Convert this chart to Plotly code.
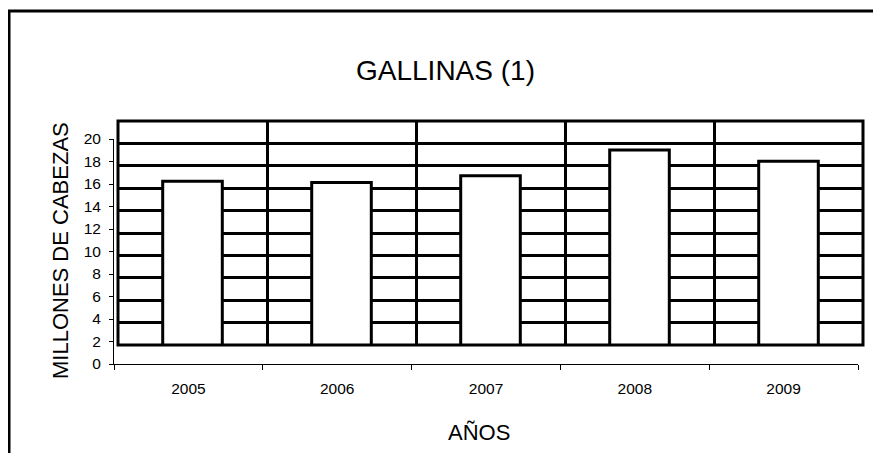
import plotly.graph_objects as go

years = ["2005", "2006", "2007", "2008", "2009"]
heads = [16.3, 16.2, 16.8, 19.1, 18.1]   # millones de cabezas
y_ticks = list(range(0, 21, 2))

# the page body has an 8px margin, so the figure starts at (8, 8)
OFF = 8
W, H = 881 - OFF, 453 - OFF

def fx(px):
    return (px - OFF) / W

def fy(py):
    return 1 - (py - OFF) / H

# excel-style offset back wall: same scale as the front axis, shifted up 19px
wall_base = 19 / 11.25

font = "Liberation Sans, Arial, sans-serif"

fig = go.Figure()
fig.add_trace(go.Bar(
    x=years, y=heads, xaxis="x2", yaxis="y2",
    width=0.4,
    marker=dict(color="white", line=dict(color="black", width=3)),
    hoverinfo="x+y", showlegend=False,
))
# invisible copy so the labelled front axes get drawn
fig.add_trace(go.Scatter(
    x=years, y=heads, xaxis="x", yaxis="y", mode="markers",
    marker=dict(opacity=0), hoverinfo="skip", showlegend=False,
))

fig.update_layout(
    template="none",
    width=W, height=H,
    margin=dict(l=0, r=0, t=0, b=0),
    paper_bgcolor="white",
    plot_bgcolor="rgba(0,0,0,0)",
    font=dict(family=font, color="black"),
    showlegend=False,
    # front axes (labelled)
    xaxis=dict(
        domain=[fx(114), fx(858)], anchor="y",
        type="category", categoryorder="array", categoryarray=years,
        range=[-0.5, 4.5], tickson="boundaries",
        ticks="outside", ticklen=5, tickwidth=1, tickcolor="black",
        showline=True, linecolor="black", linewidth=1,
        showgrid=False, zeroline=False,
        tickfont=dict(size=15.5), ticklabelstandoff=10,
        fixedrange=True,
    ),
    yaxis=dict(
        domain=[fy(364), fy(139)], anchor="x",
        range=[0, 20], tickvals=y_ticks,
        ticks="outside", ticklen=4, tickwidth=1, tickcolor="black",
        showline=True, linecolor="black", linewidth=1,
        showgrid=False, zeroline=False,
        tickfont=dict(size=15.5), ticklabelstandoff=5,
        fixedrange=True,
    ),
    # back wall with the grid and the bars
    xaxis2=dict(
        domain=[fx(118), fx(863)], anchor="y2",
        type="category", categoryorder="array", categoryarray=years,
        range=[-0.5, 4.5], tickson="boundaries",
        showgrid=True, gridcolor="black", gridwidth=3,
        showticklabels=False, ticks="", showline=False, zeroline=False,
        fixedrange=True,
    ),
    yaxis2=dict(
        domain=[fy(345), fy(121)], anchor="x2",
        range=[wall_base, wall_base + 20], tick0=wall_base, dtick=2,
        showgrid=True, gridcolor="black", gridwidth=3,
        showticklabels=False, ticks="", showline=False, zeroline=False,
        fixedrange=True,
    ),
    shapes=[
        dict(type="rect", xref="x2 domain", yref="y2 domain",
             x0=0, x1=1, y0=0, y1=1,
             line=dict(color="black", width=3), layer="above"),
        dict(type="rect", xref="paper", yref="paper",
             x0=fx(9), x1=1.05, y0=-0.05, y1=fy(11),
             line=dict(color="black", width=3)),
    ],
    annotations=[
        dict(text="GALLINAS (1)", x=fx(445), y=fy(71), xref="paper", yref="paper",
             showarrow=False, xanchor="center", yanchor="middle",
             font=dict(size=28)),
        dict(text="MILLONES DE CABEZAS", x=fx(60), y=fy(251), xref="paper", yref="paper",
             showarrow=False, xanchor="center", yanchor="middle", textangle=-90,
             font=dict(size=22)),
        dict(text="AÑOS", x=fx(479), y=fy(432), xref="paper", yref="paper",
             showarrow=False, xanchor="center", yanchor="middle",
             font=dict(size=22)),
    ],
)

fig.write_html("out.html")
